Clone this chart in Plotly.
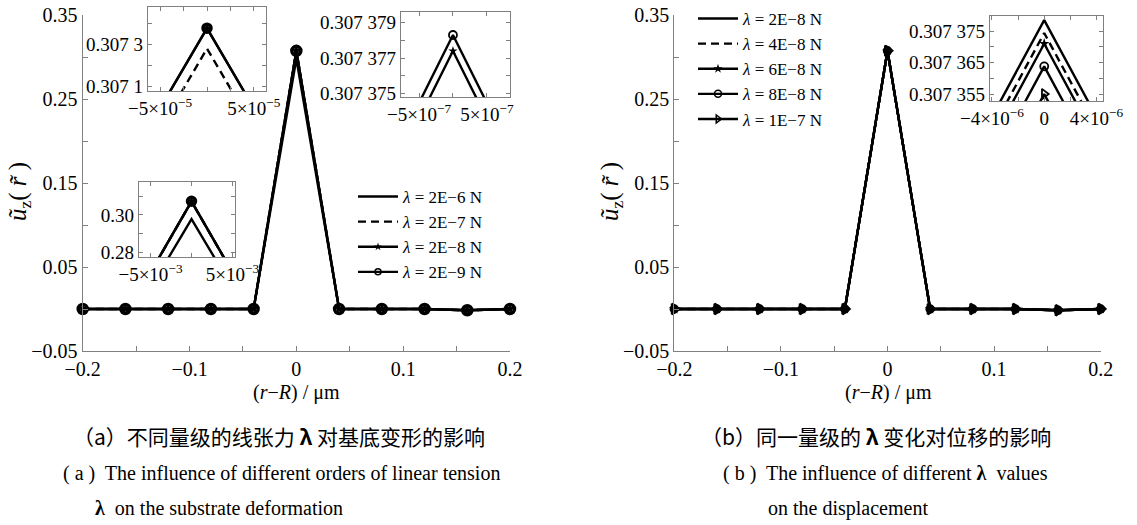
import plotly.graph_objects as go

# ---------------- data ----------------
r = [-0.2, -0.16, -0.12, -0.08, -0.04, 0.0, 0.04, 0.08, 0.12, 0.16, 0.2]

# (a) different orders of lambda
lam_a = ["2E−6", "2E−7", "2E−8", "2E−9"]
u_a_2e6 = [0, 0, 0, 0, 0, 0.2978, 0, 0, 0, -0.0015, 0]
u_a_2e7 = [0, 0, 0, 0, 0, 0.30728, 0, 0, 0, -0.0015, 0]
u_a_2e8 = [0, 0, 0, 0, 0, 0.3073774, 0, 0, 0, -0.0015, 0]
u_a_2e9 = [0, 0, 0, 0, 0, 0.3073783, 0, 0, 0, -0.0015, 0]

# (b) same order of lambda
lam_b = ["2E−8", "4E−8", "6E−8", "8E−8", "1E−7"]
u_b_2e8 = [0, 0, 0, 0, 0, 0.3073785, 0, 0, 0, -0.0015, 0]
u_b_4e8 = [0, 0, 0, 0, 0, 0.3073744, 0, 0, 0, -0.0015, 0]
u_b_6e8 = [0, 0, 0, 0, 0, 0.3073710, 0, 0, 0, -0.0015, 0]
u_b_8e8 = [0, 0, 0, 0, 0, 0.3073638, 0, 0, 0, -0.0015, 0]
u_b_1e7 = [0, 0, 0, 0, 0, 0.3073550, 0, 0, 0, -0.0015, 0]

series_a = [u_a_2e6, u_a_2e7, u_a_2e8, u_a_2e9]
series_b = [u_b_2e8, u_b_4e8, u_b_6e8, u_b_8e8, u_b_1e7]

# ---------------- styles ----------------
W, H = 1137, 525
SERIF = "Liberation Serif"
CJK = "Noto Sans CJK SC"
GRAY = "#808080"
LW = 2.4
DASH = "8px,5px"

style_a = [
    dict(dash="solid", symbol=None),
    dict(dash=DASH, symbol=None),
    dict(dash="solid", symbol="star"),
    dict(dash="solid", symbol="circle-open"),
]
style_b = [
    dict(dash="solid", symbol=None),
    dict(dash=DASH, symbol=None),
    dict(dash="solid", symbol="star"),
    dict(dash="solid", symbol="circle-open"),
    dict(dash="solid", symbol="triangle-right-open"),
]


def px_x(p):
    return p / W


def px_y(p):
    return 1 - p / H


def marker_for(sym, size, lw=1.5):
    if sym is None:
        return None
    if sym.endswith("open"):
        return dict(symbol=sym, size=size, color="black", line=dict(color="black", width=lw))
    return dict(symbol=sym, size=size, color="black", line=dict(color="black", width=0))


fig = go.Figure()


def add_series(series, styles, xa, ya, sizes, clip, open_lw):
    for ys, st, sz in zip(series, styles, sizes):
        mk = marker_for(st["symbol"], sz, open_lw)
        fig.add_trace(go.Scatter(
            x=r, y=ys, xaxis=xa, yaxis=ya,
            mode="lines+markers" if mk else "lines",
            line=dict(color="black", width=LW, dash=st["dash"]),
            marker=mk, showlegend=False, cliponaxis=clip, hoverinfo="skip"))


# main panels
add_series(series_a, style_a, "x", "y", [0, 0, 9, 9], False, 3.5)
add_series(series_b, style_b, "x2", "y2", [0, 0, 8, 7, 9], False, 2.5)
# insets of (a)
add_series(series_a, style_a, "x3", "y3", [0, 0, 8, 8], True, 3.5)
add_series(series_a, style_a, "x4", "y4", [0, 0, 7, 8], True, 1.8)
add_series(series_a, style_a, "x5", "y5", [0, 0, 8, 8], True, 3.5)
# inset of (b)
add_series(series_b, style_b, "x6", "y6", [0, 0, 8, 8, 9], True, 1.8)

# legend entries
for lab, st in zip(lam_a, style_a):
    mk = marker_for(st["symbol"], 6, 1.5)
    fig.add_trace(go.Scatter(
        x=[None], y=[None], xaxis="x", yaxis="y",
        mode="lines+markers" if mk else "lines",
        line=dict(color="black", width=LW, dash=st["dash"]), marker=mk,
        name=f"<i>λ</i> = {lab} N", legend="legend"))
for lab, st in zip(lam_b, style_b):
    mk = marker_for(st["symbol"], 7, 1.5)
    fig.add_trace(go.Scatter(
        x=[None], y=[None], xaxis="x2", yaxis="y2",
        mode="lines+markers" if mk else "lines",
        line=dict(color="black", width=LW, dash=st["dash"]), marker=mk,
        name=f"<i>λ</i> = {lab} N", legend="legend2"))

tick_font = dict(family=SERIF, size=20, color="black")

# main axes ticks
y_main_vals = [-0.05, 0.0, 0.05, 0.10, 0.15, 0.20, 0.25, 0.30, 0.35]
y_main_text = ["−0.05", "", "0.05", "", "0.15", "", "0.25", "", "0.35"]
x_main_vals = [-0.2, -0.15, -0.1, -0.05, 0.0, 0.05, 0.1, 0.15, 0.2]
x_main_text = ["−0.2", "", "−0.1", "", "0", "", "0.1", "", "0.2"]


def main_x(domain, anchor):
    return dict(domain=domain, anchor=anchor, range=[-0.2, 0.2],
                tickmode="array", tickvals=x_main_vals, ticktext=x_main_text,
                ticks="inside", ticklen=5, tickcolor=GRAY, showline=True,
                linecolor=GRAY, linewidth=1.2, showgrid=False, zeroline=False,
                tickfont=tick_font, automargin=False)


def main_y(domain, anchor):
    return dict(domain=domain, anchor=anchor, range=[-0.05, 0.35],
                tickmode="array", tickvals=y_main_vals, ticktext=y_main_text,
                ticks="inside", ticklen=5, tickcolor=GRAY, showline=True,
                linecolor=GRAY, linewidth=1.2, showgrid=False, zeroline=False,
                tickfont=tick_font, automargin=False)


def inset_axis(domain, anchor, rng, vals, text):
    return dict(domain=domain, anchor=anchor, range=rng, tickmode="array",
                tickvals=vals, ticktext=text, ticks="inside", ticklen=4,
                tickcolor=GRAY, showline=True, mirror="allticks", linecolor=GRAY,
                linewidth=1.2, showgrid=False, zeroline=False,
                tickfont=dict(family=SERIF, size=19, color="black"),
                automargin=False)


yd_main = [px_y(351), px_y(15)]

layout = dict(
    width=W, height=H, margin=dict(l=0, r=0, t=0, b=0, autoexpand=False),
    paper_bgcolor="white", plot_bgcolor="rgba(0,0,0,0)",
    font=dict(family=SERIF, color="black"),
    xaxis=main_x([px_x(82.7), px_x(510)], "y"),
    yaxis=main_y(yd_main, "x"),
    xaxis2=main_x([px_x(674.3), px_x(1100.7)], "y2"),
    yaxis2=main_y(yd_main, "x2"),
    # inset 1
    xaxis3=inset_axis([px_x(148), px_x(266)], "y3", [-6.3e-5, 6.3e-5],
                      [-5e-5, -2.5e-5, 0, 2.5e-5, 5e-5],
                      ["−5×10<sup>−5</sup>", "", "", "", "5×10<sup>−5</sup>"]),
    yaxis3=inset_axis([px_y(91), px_y(7)], "x3", [0.307076, 0.30748],
                      [0.3071, 0.3072, 0.3073, 0.3074], ["0.307 1", "", "0.307 3", ""]),
    # inset 2
    xaxis4=inset_axis([px_x(401), px_x(510)], "y4", [-7.65e-7, 8.4e-7],
                      [-5e-7, 0, 5e-7],
                      ["−5×10<sup>−7</sup>", "", "5×10<sup>−7</sup>"]),
    yaxis4=inset_axis([px_y(97), px_y(12)], "x4", [0.3073748, 0.3073796],
                      [0.307375, 0.307376, 0.307377, 0.307378, 0.307379],
                      ["0.307 375", "", "0.307 377", "", "0.307 379"]),
    # inset 3
    xaxis5=inset_axis([px_x(139), px_x(235)], "y5", [-6.4e-3, 5.3e-3],
                      [-5e-3, 0, 5e-3],
                      ["−5×10<sup>−3</sup>", "", "5×10<sup>−3</sup>"]),
    yaxis5=inset_axis([px_y(257), px_y(182)], "x5", [0.2773, 0.3178],
                      [0.28, 0.29, 0.30, 0.31], ["0.28", "", "0.30", ""]),
    # inset of (b)
    xaxis6=inset_axis([px_x(990), px_x(1103)], "y6", [-4.15e-6, 4.5e-6],
                      [-4e-6, -2e-6, 0, 2e-6, 4e-6],
                      ["−4×10<sup>−6</sup>", "", "0", "", "4×10<sup>−6</sup>"]),
    yaxis6=inset_axis([px_y(101), px_y(16)], "x6", [0.3073528, 0.3073798],
                      [0.307355, 0.30736, 0.307365, 0.30737, 0.307375],
                      ["0.307 355", "", "0.307 365", "", "0.307 375"]),
    legend=dict(x=px_x(353), y=px_y(179), xanchor="left", yanchor="top",
                bgcolor="rgba(255,255,255,0)", font=dict(family=SERIF, size=17),
                tracegroupgap=0, itemwidth=40),
    legend2=dict(x=px_x(693), y=px_y(1), xanchor="left", yanchor="top",
                 bgcolor="rgba(255,255,255,0)", font=dict(family=SERIF, size=17),
                 tracegroupgap=0, itemwidth=40),
    showlegend=True,
)
fig.update_layout(**layout)

# axis titles
title_font = dict(family=SERIF, size=20, color="black")
for cx in (296, 888):
    fig.add_annotation(text="(<i>r</i>−<i>R</i>) / μm", x=px_x(cx), y=px_y(392),
                       xref="paper", yref="paper", showarrow=False,
                       xanchor="center", yanchor="middle", font=title_font)
for cx in (20, 612):
    fig.add_annotation(text="<i>ũ</i><sub>z</sub>( <i>r̃</i> )", x=px_x(cx), y=px_y(192),
                       xref="paper", yref="paper", showarrow=False, textangle=-90,
                       xanchor="center", yanchor="middle", font=dict(family=SERIF, size=25))

cap_font_en = dict(family=SERIF, size=20, color="black")
cap_font_cn = dict(family=CJK, size=21, color="black")
captions = [
    ("（a）不同量级的线张力 <b>λ</b> 对基底变形的影响", 279, 436, "center", cap_font_cn),
    ("( a )  The influence of different orders of linear tension", 281, 474, "center", cap_font_en),
    ("<b>λ</b>  on the substrate deformation", 93, 508, "left", cap_font_en),
    ("（b）同一量级的 <b>λ</b> 变化对位移的影响", 876, 436, "center", cap_font_cn),
    ("( b )  The influence of different <b>λ</b>  values", 885, 474, "center", cap_font_en),
    ("on the displacement", 766, 508, "left", cap_font_en),
]
for txt, x, y, anc, f in captions:
    fig.add_annotation(text=txt, x=px_x(x), y=px_y(y), xref="paper", yref="paper",
                       xanchor=anc, yanchor="middle", showarrow=False, font=f)

fig.write_html("out.html")
